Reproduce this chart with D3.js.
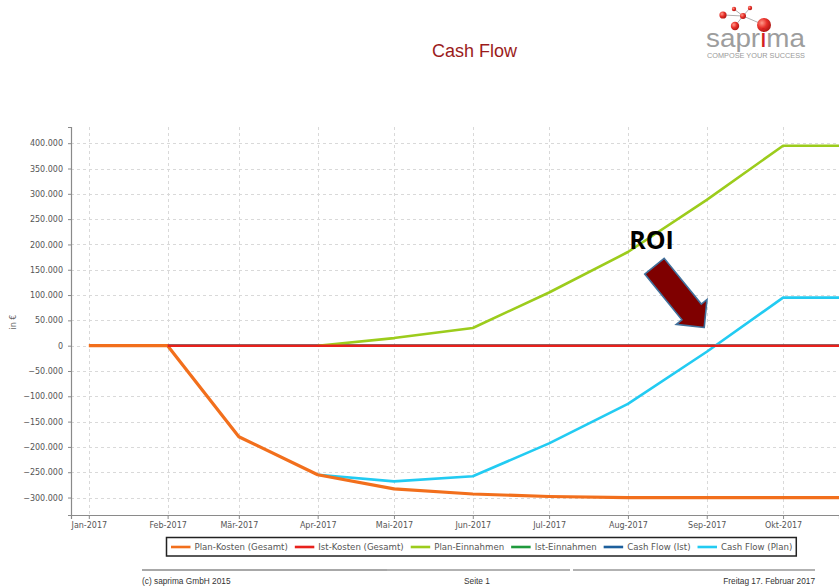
<!DOCTYPE html>
<html>
<head>
<meta charset="utf-8">
<script src="https://cdn.jsdelivr.net/npm/d3@7"></script>
<style>
	html, body { margin: 0; padding: 0; background: #fff; overflow: hidden; }
	#chart { width: 839px; height: 587px; }
	svg { display: block; }
</style>
</head>
<body>
<div id="chart"></div>
<script>
(function (d3) {
	'use strict';

	// DATA
	const monthDates = ["2017-01-01", "2017-02-01", "2017-03-01", "2017-04-01", "2017-05-01", "2017-06-01",
		"2017-07-01", "2017-08-01", "2017-09-01", "2017-10-01", "2017-11-01"];
	const tickLabels = ["Jan-2017", "Feb-2017", "Mär-2017", "Apr-2017", "Mai-2017", "Jun-2017",
		"Jul-2017", "Aug-2017", "Sep-2017", "Okt-2017"];
	const yTicks = [-300000, -250000, -200000, -150000, -100000, -50000, 0,
		50000, 100000, 150000, 200000, 250000, 300000, 350000, 400000];

	const planKosten = [0, 0, -180000, -255000, -283000, -293000, -298000, -300000, -300000, -300000, -300000];
	const istKosten = [null, 0, 0, 0, 0, 0, 0, 0, 0, 0, 0];
	const planEinnahmen = [null, null, null, 0, 15000, 35000, 105000, 185000, 288000, 395000, 395000];
	const istEinnahmen = [null, 0, 0, 0, 0, 0, 0, 0, 0, 0, 0];
	const cashFlowIst = [null, 0, 0, 0, 0, 0, 0, 0, 0, 0, 0];
	const cashFlowPlan = [null, null, null, -255000, -268000, -258000, -193000, -115000, -12000, 95000, 95000];

	const seriesNames = ["Plan-Kosten (Gesamt)", "Ist-Kosten (Gesamt)", "Plan-Einnahmen",
		"Ist-Einnahmen", "Cash Flow (Ist)", "Cash Flow (Plan)"];
	const seriesValues = [planKosten, istKosten, planEinnahmen, istEinnahmen, cashFlowIst, cashFlowPlan];
	const seriesColors = ["#f26f1c", "#e8211c", "#9ccc1c", "#1f9a3c", "#1d5f9c", "#22cbf2"];
	const drawOrder = [3, 4, 2, 5, 0, 1];

	const roiNote = { date: "2017-08-31", value: 36000, text: "ROI" };

	const parseDate = d3.timeParse("%Y-%m-%d");

	const svg = d3.select("#chart").append("svg")
		.attr("width", 839)
		.attr("height", 587);

	// PLOT AREA
	const plot = { left: 71, right: 839, top: 127, bottom: 515 };

	const xScale = d3.scaleTime()
		.domain([parseDate("2016-12-25"), parseDate("2017-10-23")])
		.range([plot.left, plot.right]);

	const yScale = d3.scaleLinear()
		.domain([-334500, 432000])
		.range([plot.bottom, plot.top]);

	const tickDates = monthDates.slice(0, tickLabels.length).map(parseDate);
	const fmtNum = v => d3.format(",")(v).replace(/,/g, ".");

	// grid
	const grid = svg.append("g").attr("stroke", "#d9d9d9").attr("stroke-dasharray", "3,3").attr("stroke-width", 1);
	grid.selectAll(".gx").data(tickDates).enter().append("line")
		.attr("x1", d => Math.round(xScale(d)) + 0.5).attr("x2", d => Math.round(xScale(d)) + 0.5)
		.attr("y1", plot.top).attr("y2", plot.bottom);
	grid.selectAll(".gy").data(yTicks).enter().append("line")
		.attr("x1", plot.left).attr("x2", plot.right)
		.attr("y1", d => Math.round(yScale(d)) + 0.5).attr("y2", d => Math.round(yScale(d)) + 0.5);

	// axes
	const xAxis = d3.axisBottom(xScale)
		.tickValues(tickDates)
		.tickSize(4)
		.tickPadding(3)
		.tickFormat((d, i) => tickLabels[i]);
	const xAxisG = svg.append("g")
		.attr("transform", `translate(0,${plot.bottom})`)
		.call(xAxis);

	const yAxis = d3.axisLeft(yScale)
		.tickValues(yTicks)
		.tickSize(3)
		.tickPadding(5)
		.tickFormat(fmtNum);
	const yAxisG = svg.append("g")
		.attr("transform", `translate(${plot.left},0)`)
		.call(yAxis);

	[xAxisG, yAxisG].forEach(a => {
		a.select(".domain").attr("stroke", "#8a8a8a").attr("stroke-width", 1.2);
		a.selectAll(".tick line").attr("stroke", "#8a8a8a");
		a.selectAll("text")
			.attr("fill", "#555")
			.style("font-family", "'DejaVu Sans', Verdana, sans-serif")
			.style("font-size", "8px");
	});

	svg.append("text")
		.attr("transform", "translate(16,322) rotate(-90)")
		.attr("text-anchor", "middle")
		.attr("fill", "#666")
		.style("font-family", "'DejaVu Sans', Verdana, sans-serif")
		.style("font-size", "8px")
		.text("in €");

	// lines
	svg.append("clipPath").attr("id", "clip").append("rect")
		.attr("x", plot.left).attr("y", plot.top - 5)
		.attr("width", plot.right - plot.left).attr("height", plot.bottom - plot.top + 5);

	const line = d3.line()
		.defined(d => d.v != null)
		.x(d => xScale(d.date))
		.y(d => yScale(d.v));

	const linesG = svg.append("g").attr("clip-path", "url(#clip)");
	drawOrder.forEach(i => {
		const pts = monthDates.map((m, j) => ({ date: parseDate(m), v: seriesValues[i][j] }));
		linesG.append("path")
			.datum(pts)
			.attr("fill", "none")
			.attr("stroke", seriesColors[i])
			.attr("stroke-width", i === 0 ? 3.2 : 2.6)
			.attr("stroke-linejoin", "round")
			.attr("d", line);
	});

	// ROI annotation
	const tip = [xScale(parseDate(roiNote.date)), yScale(roiNote.value)];
	const u = [0.63, 0.776], p = [-0.776, 0.63];
	const at = (back, side) => [tip[0] - back * u[0] + side * p[0], tip[1] - back * u[1] + side * p[1]];
	const arrowPts = [tip, at(20, 19.8), at(20, 12.5), at(79, 12.5), at(79, -12.5), at(20, -12.5), at(20, -19.8)];
	svg.append("polygon")
		.attr("points", arrowPts.map(q => q.join(",")).join(" "))
		.attr("fill", "#7f0000")
		.attr("stroke", "#41719c")
		.attr("stroke-width", 1.6)
		.attr("stroke-linejoin", "miter");
	svg.append("text")
		.attr("x", tip[0] - 75)
		.attr("y", tip[1] - 78)
		.attr("fill", "#000")
		.style("font-family", "'Open Sans', sans-serif")
		.style("font-weight", 700)
		.style("font-size", "25px")
		.text(roiNote.text);

	// legend
	const legend = svg.append("g");
	const legendBox = legend.append("rect")
		.attr("x", 166.5).attr("y", 537.5)
		.attr("height", 18.5)
		.attr("fill", "#fff")
		.attr("stroke", "#222").attr("stroke-width", 1.5);
	let lx = 171;
	seriesNames.forEach((name, i) => {
		legend.append("line")
			.attr("x1", lx).attr("x2", lx + 19.5)
			.attr("y1", 547).attr("y2", 547)
			.attr("stroke", seriesColors[i]).attr("stroke-width", 2.6);
		const t = legend.append("text")
			.attr("x", lx + 23.5).attr("y", 550)
			.attr("fill", "#555")
			.style("font-family", "'DejaVu Sans', Verdana, sans-serif")
			.style("font-size", "8.6px")
			.text(name);
		lx += 23.5 + t.node().getComputedTextLength() + (i < seriesNames.length - 1 ? 7 : 4);
	});
	legendBox.attr("width", lx - 166.5);

	// title + logo
	svg.append("text")
		.attr("x", 432).attr("y", 57)
		.attr("fill", "#9b1b1b")
		.style("font-family", "'Liberation Sans', Arial, sans-serif")
		.style("font-size", "18px")
		.text("Cash Flow");

	const logo = svg.append("g");
	const logoLinks = [[743, 16, 723, 15], [743, 16, 734, 9], [743, 16, 750, 8], [743, 16, 735, 26], [743, 16, 764, 25]];
	const logoBalls = [[764, 25, 7], [723, 15, 3.6], [735, 26, 4.2], [743, 16, 3], [734, 9, 2.2], [750, 8, 2.2]];
	const grad = svg.append("defs").append("radialGradient").attr("id", "ball")
		.attr("cx", "35%").attr("cy", "35%").attr("r", "65%");
	grad.append("stop").attr("offset", "0%").attr("stop-color", "#ff9a8a");
	grad.append("stop").attr("offset", "55%").attr("stop-color", "#e8302a");
	grad.append("stop").attr("offset", "100%").attr("stop-color", "#b31a16");
	logo.selectAll("line").data(logoLinks).enter().append("line")
		.attr("x1", d => d[0]).attr("y1", d => d[1]).attr("x2", d => d[2]).attr("y2", d => d[3])
		.attr("stroke", "#b0b0b0").attr("stroke-width", 1);
	logo.selectAll("circle").data(logoBalls).enter().append("circle")
		.attr("cx", d => d[0]).attr("cy", d => d[1]).attr("r", d => d[2])
		.attr("fill", "url(#ball)");
	const brand = logo.append("text")
		.attr("x", 706).attr("y", 47)
		.attr("fill", "#9d9d9d")
		.style("font-family", "'Liberation Sans', Arial, sans-serif")
		.style("font-size", "26px")
		.attr("textLength", 99)
		.attr("lengthAdjust", "spacingAndGlyphs");
	brand.append("tspan").text("sapr");
	brand.append("tspan").attr("fill", "#d42020").text("i");
	brand.append("tspan").text("ma");
	logo.append("text")
		.attr("x", 707).attr("y", 58)
		.attr("fill", "#9a9a9a")
		.style("font-family", "'Liberation Sans', Arial, sans-serif")
		.style("font-size", "6.5px")
		.attr("textLength", 98)
		.attr("lengthAdjust", "spacingAndGlyphs")
		.text("COMPOSE YOUR SUCCESS");

	// footer
	const footer = svg.append("g");
	footer.append("line").attr("x1", 142).attr("x2", 387).attr("y1", 570).attr("y2", 570)
		.attr("stroke", "#a8a8a8").attr("stroke-width", 2);
	footer.append("line").attr("x1", 387).attr("x2", 570).attr("y1", 570).attr("y2", 570)
		.attr("stroke", "#999").attr("stroke-width", 1.5);
	footer.append("line").attr("x1", 573).attr("x2", 815).attr("y1", 570).attr("y2", 570)
		.attr("stroke", "#999").attr("stroke-width", 1.5);
	const footText = [["(c) saprima GmbH 2015", 142, "start"], ["Seite 1", 477, "middle"], ["Freitag 17. Februar 2017", 815, "end"]];
	footer.selectAll("text").data(footText).enter().append("text")
		.attr("x", d => d[1]).attr("y", 584)
		.attr("text-anchor", d => d[2])
		.attr("fill", "#333")
		.style("font-family", "'Liberation Sans', Arial, sans-serif")
		.style("font-size", "8.3px")
		.text(d => d[0]);
}(d3));
</script>
</body>
</html>
